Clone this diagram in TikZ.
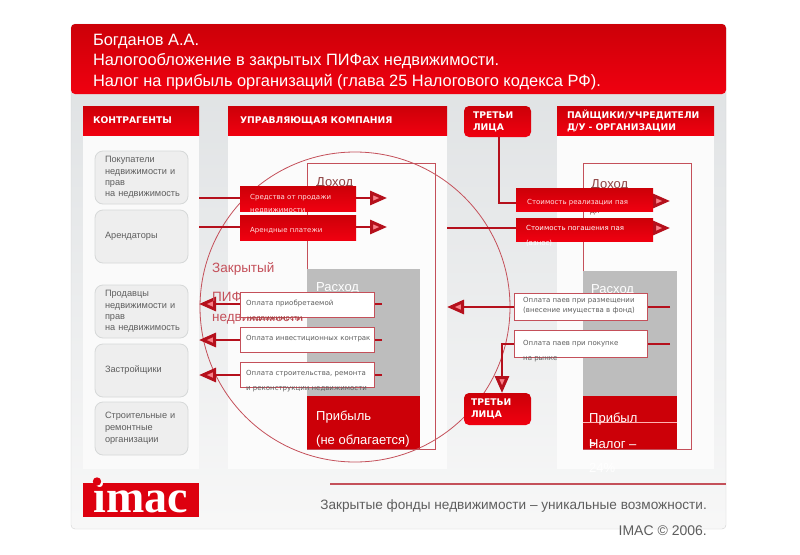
\documentclass[tikz,border=0pt]{standalone}
\usepackage{fontspec}
\setmainfont{Liberation Sans}
\newfontfamily\vfont{DejaVu Sans}
\newfontfamily\logofont{Liberation Serif}
\usetikzlibrary{arrows.meta,backgrounds,calc}
\pgfdeclarelayer{conn}
\pgfsetlayers{background,conn,main}
\definecolor{rd}{HTML}{CC0008}
\definecolor{rdb}{HTML}{F00010}
\definecolor{drd}{HTML}{B5101C}
\definecolor{ln}{HTML}{C4505A}
\definecolor{gr}{HTML}{5E5E5E}
\definecolor{pal}{HTML}{DDE0E2}
\definecolor{bx}{HTML}{EEEEEE}
\definecolor{bxl}{HTML}{D6D8D8}
\definecolor{mid}{HTML}{BDBDBD}
\tikzset{
 x=1pt,y=-1pt,
 box/.style={inner sep=0pt,outer sep=0pt,anchor=north west},
 txt/.style={anchor=west,inner sep=0pt,align=left},
 colhead/.style={box,top color=rd,bottom color=rdb,text=white,font=\vfont\fontsize{9.2}{12}\selectfont\bfseries,align=left},
 ctr/.style={box,rounded corners=8pt,fill=bx,draw=bxl,line width=0.8pt,text=gr,font=\fontsize{9.2}{12.2}\selectfont,align=left},
 third/.style={box,rounded corners=5pt,top color=rd,bottom color=rdb,text=white,font=\vfont\fontsize{9.2}{12}\selectfont\bfseries,align=left},
 redlab/.style={box,top color=rd,bottom color=rdb},
 redtxt/.style={txt,text=white!88!red,font=\vfont\fontsize{7}{13.5}\selectfont},
 whitelab/.style={box,fill=white,draw=ln,line width=0.8pt},
 whitetxt/.style={txt,text=gr,font=\vfont\fontsize{7}{15}\selectfont},
 big/.style={txt,font=\fontsize{13}{15}\selectfont,text=white},
 conn/.style={draw=drd,line width=2.6pt},
 head/.style={-{Triangle[length=17pt,width=14pt,line width=3pt,fill=rdb!50!white,color=drd]}},
}
\begin{document}
\begin{tikzpicture}
\useasboundingbox (0,0) rectangle (800,554);
\begin{pgfonlayer}{background}
\fill[white] (0,0) rectangle (800,554);
\node[box,minimum width=655pt,minimum height=505pt,rounded corners=4pt,top color=pal,bottom color=white!94!gray,draw=black!18] (panel) at (71,24) {};
\shade[top color=rd,bottom color=rdb,rounded corners=4pt] (71,94) -- (71,24) -- (726,24) -- (726,94) -- cycle;
% column bodies
\node[box,minimum width=116pt,minimum height=335pt,fill=white!96!gray] (col1) at (83,134) {};
\node[box,minimum width=219pt,minimum height=335pt,fill=white!97!gray] (col2) at (228,134) {};
\node[box,minimum width=157pt,minimum height=335pt,fill=white!97!gray] (col4) at (557,134) {};
% inner balance blocks
\draw[draw=ln,line width=.8pt,fill=white!98!gray] (307,163) rectangle (435,449);
\fill[mid] (307,269) rectangle (420,396);
\fill[rd] (307,396) rectangle (420,449);
\draw[draw=ln,line width=.8pt,fill=white!98!gray] (583,163) rectangle (691,449);
\fill[mid] (583,271) rectangle (677,396);
\fill[rd] (583,396) rectangle (677,449);
\draw[white!70!red,line width=.8pt] (583,422) -- (677,422);
\draw[ln,line width=1.5pt] (330,484) -- (726,484);
\end{pgfonlayer}
% headers
\node[box,text=white,font=\fontsize{16.4}{20.5}\selectfont,align=left] (title) at (93,34) {Богданов А.А.\\Налогообложение в закрытых ПИФах недвижимости.\\Налог на прибыль организаций (глава 25 Налогового кодекса РФ).};
\node[colhead,minimum width=116pt,minimum height=29pt,text width=116pt] (h1) at (83,106) {\hspace*{10pt}КОНТРАГЕНТЫ};
\node[colhead,minimum width=219pt,minimum height=29pt,text width=219pt] (h2) at (228,106) {\hspace*{12pt}УПРАВЛЯЮЩАЯ КОМПАНИЯ};
\node[colhead,minimum width=157pt,minimum height=29pt,text width=157pt] (h4) at (557,106) {\hspace*{10pt}ПАЙЩИКИ/УЧРЕДИТЕЛИ\\\hspace*{10pt}Д/У - ОРГАНИЗАЦИИ};
\node[third,minimum width=67pt,minimum height=31pt,text width=67pt] (t1) at (464,106) {\hspace*{9pt}ТРЕТЬИ\\\hspace*{9pt}ЛИЦА};
\node[third,minimum width=67pt,minimum height=32pt,text width=67pt] (t2) at (464,393) {\hspace*{7pt}ТРЕТЬИ\\\hspace*{7pt}ЛИЦА};
% counterparties
\node[ctr,minimum width=93pt,minimum height=53pt,text width=93pt,font=\fontsize{9.2}{11.2}\selectfont] (c1) at (95,151) {\hspace*{10pt}Покупатели\\\hspace*{10pt}недвижимости и\\\hspace*{10pt}прав\\\hspace*{10pt}на недвижимость};
\node[ctr,minimum width=93pt,minimum height=53pt,text width=93pt] (c2) at (95,210) {\hspace*{10pt}Арендаторы};
\node[ctr,minimum width=93pt,minimum height=53pt,text width=93pt,font=\fontsize{9.2}{11.2}\selectfont] (c3) at (95,285) {\hspace*{10pt}Продавцы\\\hspace*{10pt}недвижимости и\\\hspace*{10pt}прав\\\hspace*{10pt}на недвижимость};
\node[ctr,minimum width=93pt,minimum height=53pt,text width=93pt] (c4) at (95,344) {\hspace*{10pt}Застройщики};
\node[ctr,minimum width=93pt,minimum height=53pt,text width=93pt] (c5) at (95,402) {\hspace*{10pt}Строительные и\\\hspace*{10pt}ремонтные\\\hspace*{10pt}организации};
% blocks text
\node[big,text=gr!70!red] (d1) at (316,183) {Доход};
\node[big] (r1) at (316,288) {Расход};
\node[big] (p1) at (316,417) {Прибыль};
\node[big] (p2) at (316,441) {(не облагается)};
\node[big,text=gr!70!red] (d2) at (591,185) {Доход};
\node[big,text=gr!70!red,font=\fontsize{8}{10}\selectfont] (d3) at (590,212) {ди};
\node[big] (r2) at (591,290) {Расход};
\node[big] (p3) at (589,419) {Прибыл};
\node[big] (p3b) at (589,443) {ь};
\node[big] (p4) at (589,444) {Налог –};
\node[big] (p5) at (589,468) {24\%};
\node[big,text=ln,font=\fontsize{13.5}{15}\selectfont] (pif1) at (212,269) {Закрытый};
\node[big,text=ln,font=\fontsize{13.5}{15}\selectfont] (pif2) at (212,297) {ПИФ};
\node[big,text=ln,font=\fontsize{13.5}{15}\selectfont] (pif3) at (212,319) {недвижимости};
% payment labels
\node[redlab,minimum width=116pt,minimum height=25pt] (a1) at (240,186) {};
\node[redtxt] (a1t) at (250,204) {Средства от продажи\\недвижимости};
\node[redlab,minimum width=116pt,minimum height=25pt] (a2) at (240,215) {};
\node[redtxt] (a2t) at (250,231) {Арендные платежи};
\node[redlab,minimum width=137pt,minimum height=23pt] (b1) at (516,188) {};
\node[redtxt] (b1t) at (527,203) {Стоимость реализации пая};
\node[redlab,minimum width=137pt,minimum height=23pt] (b2) at (516,218) {};
\node[redtxt,text=white,font=\vfont\fontsize{7}{15}\selectfont] (b2t) at (526,235.5) {Стоимость погашения пая\\(взнос)};
\node[whitelab,minimum width=134pt,minimum height=25pt] (w1) at (240,292) {};
\node[whitetxt] (w1t) at (246,304) {Оплата приобретаемой};
\node[whitetxt,text=gr!60!red] (w1u) at (247,319) {недвижимости};
\node[whitelab,minimum width=134pt,minimum height=25pt] (w2) at (240,327) {};
\node[whitetxt] (w2t) at (246,339) {Оплата инвестиционных контрак};
\node[whitelab,minimum width=134pt,minimum height=25pt] (w3) at (240,362) {};
\node[whitetxt] (w3t) at (246,381.5) {Оплата строительства, ремонта\\и реконструкции недвижимости};
\node[whitelab,minimum width=133pt,minimum height=27pt] (w4) at (514,293) {};
\node[whitetxt,font=\vfont\fontsize{7}{10}\selectfont] (w4t) at (523,306) {Оплата паев при размещении\\(внесение имущества в фонд)};
\node[whitelab,minimum width=133pt,minimum height=27pt] (w5) at (514,330) {};
\node[whitetxt] (w5t) at (523,351) {Оплата паев при покупке\\на рынке};
% footer
\node[box,minimum width=116pt,minimum height=34pt,fill=rdb!92!black] (logo) at (83,483) {};
\node[anchor=base,inner sep=0pt,text=white,font=\logofont\fontsize{46}{50}\selectfont\bfseries] (logotxt) at (141,512.5) {imac};
\fill[rdb!92!black] (97,481.5) circle (4.2pt);
\node[anchor=east,inner sep=0pt,text=gr,font=\fontsize{13.6}{15}\selectfont] (slogan) at (707,506) {Закрытые фонды недвижимости – уникальные возможности.};
\node[anchor=east,inner sep=0pt,text=gr,font=\fontsize{14}{15}\selectfont] (copy) at (707,531) {IMAC © 2006.};
% connectors
\coordinate (e1) at (387,198);
\coordinate (e2) at (387,227);
\coordinate (e3) at (670,201);
\coordinate (e4) at (670,228);
\coordinate (s3) at (382,304);
\coordinate (s4) at (382,340);
\coordinate (s5) at (382,375);
\coordinate (s6) at (670,307);
\coordinate (s7) at (670,344);
\coordinate (k7) at (502,344);
\begin{pgfonlayer}{conn}
\node[draw=ln,line width=.8pt,circle,minimum size=310pt,inner sep=0pt] (pif) at (355,307) {};
\draw[conn,head] (col1.east |- e1) -- (e1);
\draw[conn,head] (col1.east |- e2) -- (e2);
\draw[conn,head] (s3) -- (col1.east |- s3);
\draw[conn,head] (s4) -- (col1.east |- s4);
\draw[conn,head] (s5) -- (col1.east |- s5);
\draw[conn] (col2.east |- e4) -- (b2.west |- e4);
\draw[conn,head] (b2.east |- e4) -- (e4);
\coordinate (t1d) at (499,137);
\draw[conn] (t1d) |- (b1.west |- 0,203);
\draw[conn,head] (b1.east |- e3) -- (e3);
\draw[conn,head] (s6) -- (col2.east |- s6);
\draw[conn,head] (s7) -- (k7) -- (k7 |- t2.north);
\end{pgfonlayer}
\end{tikzpicture}
\end{document}
